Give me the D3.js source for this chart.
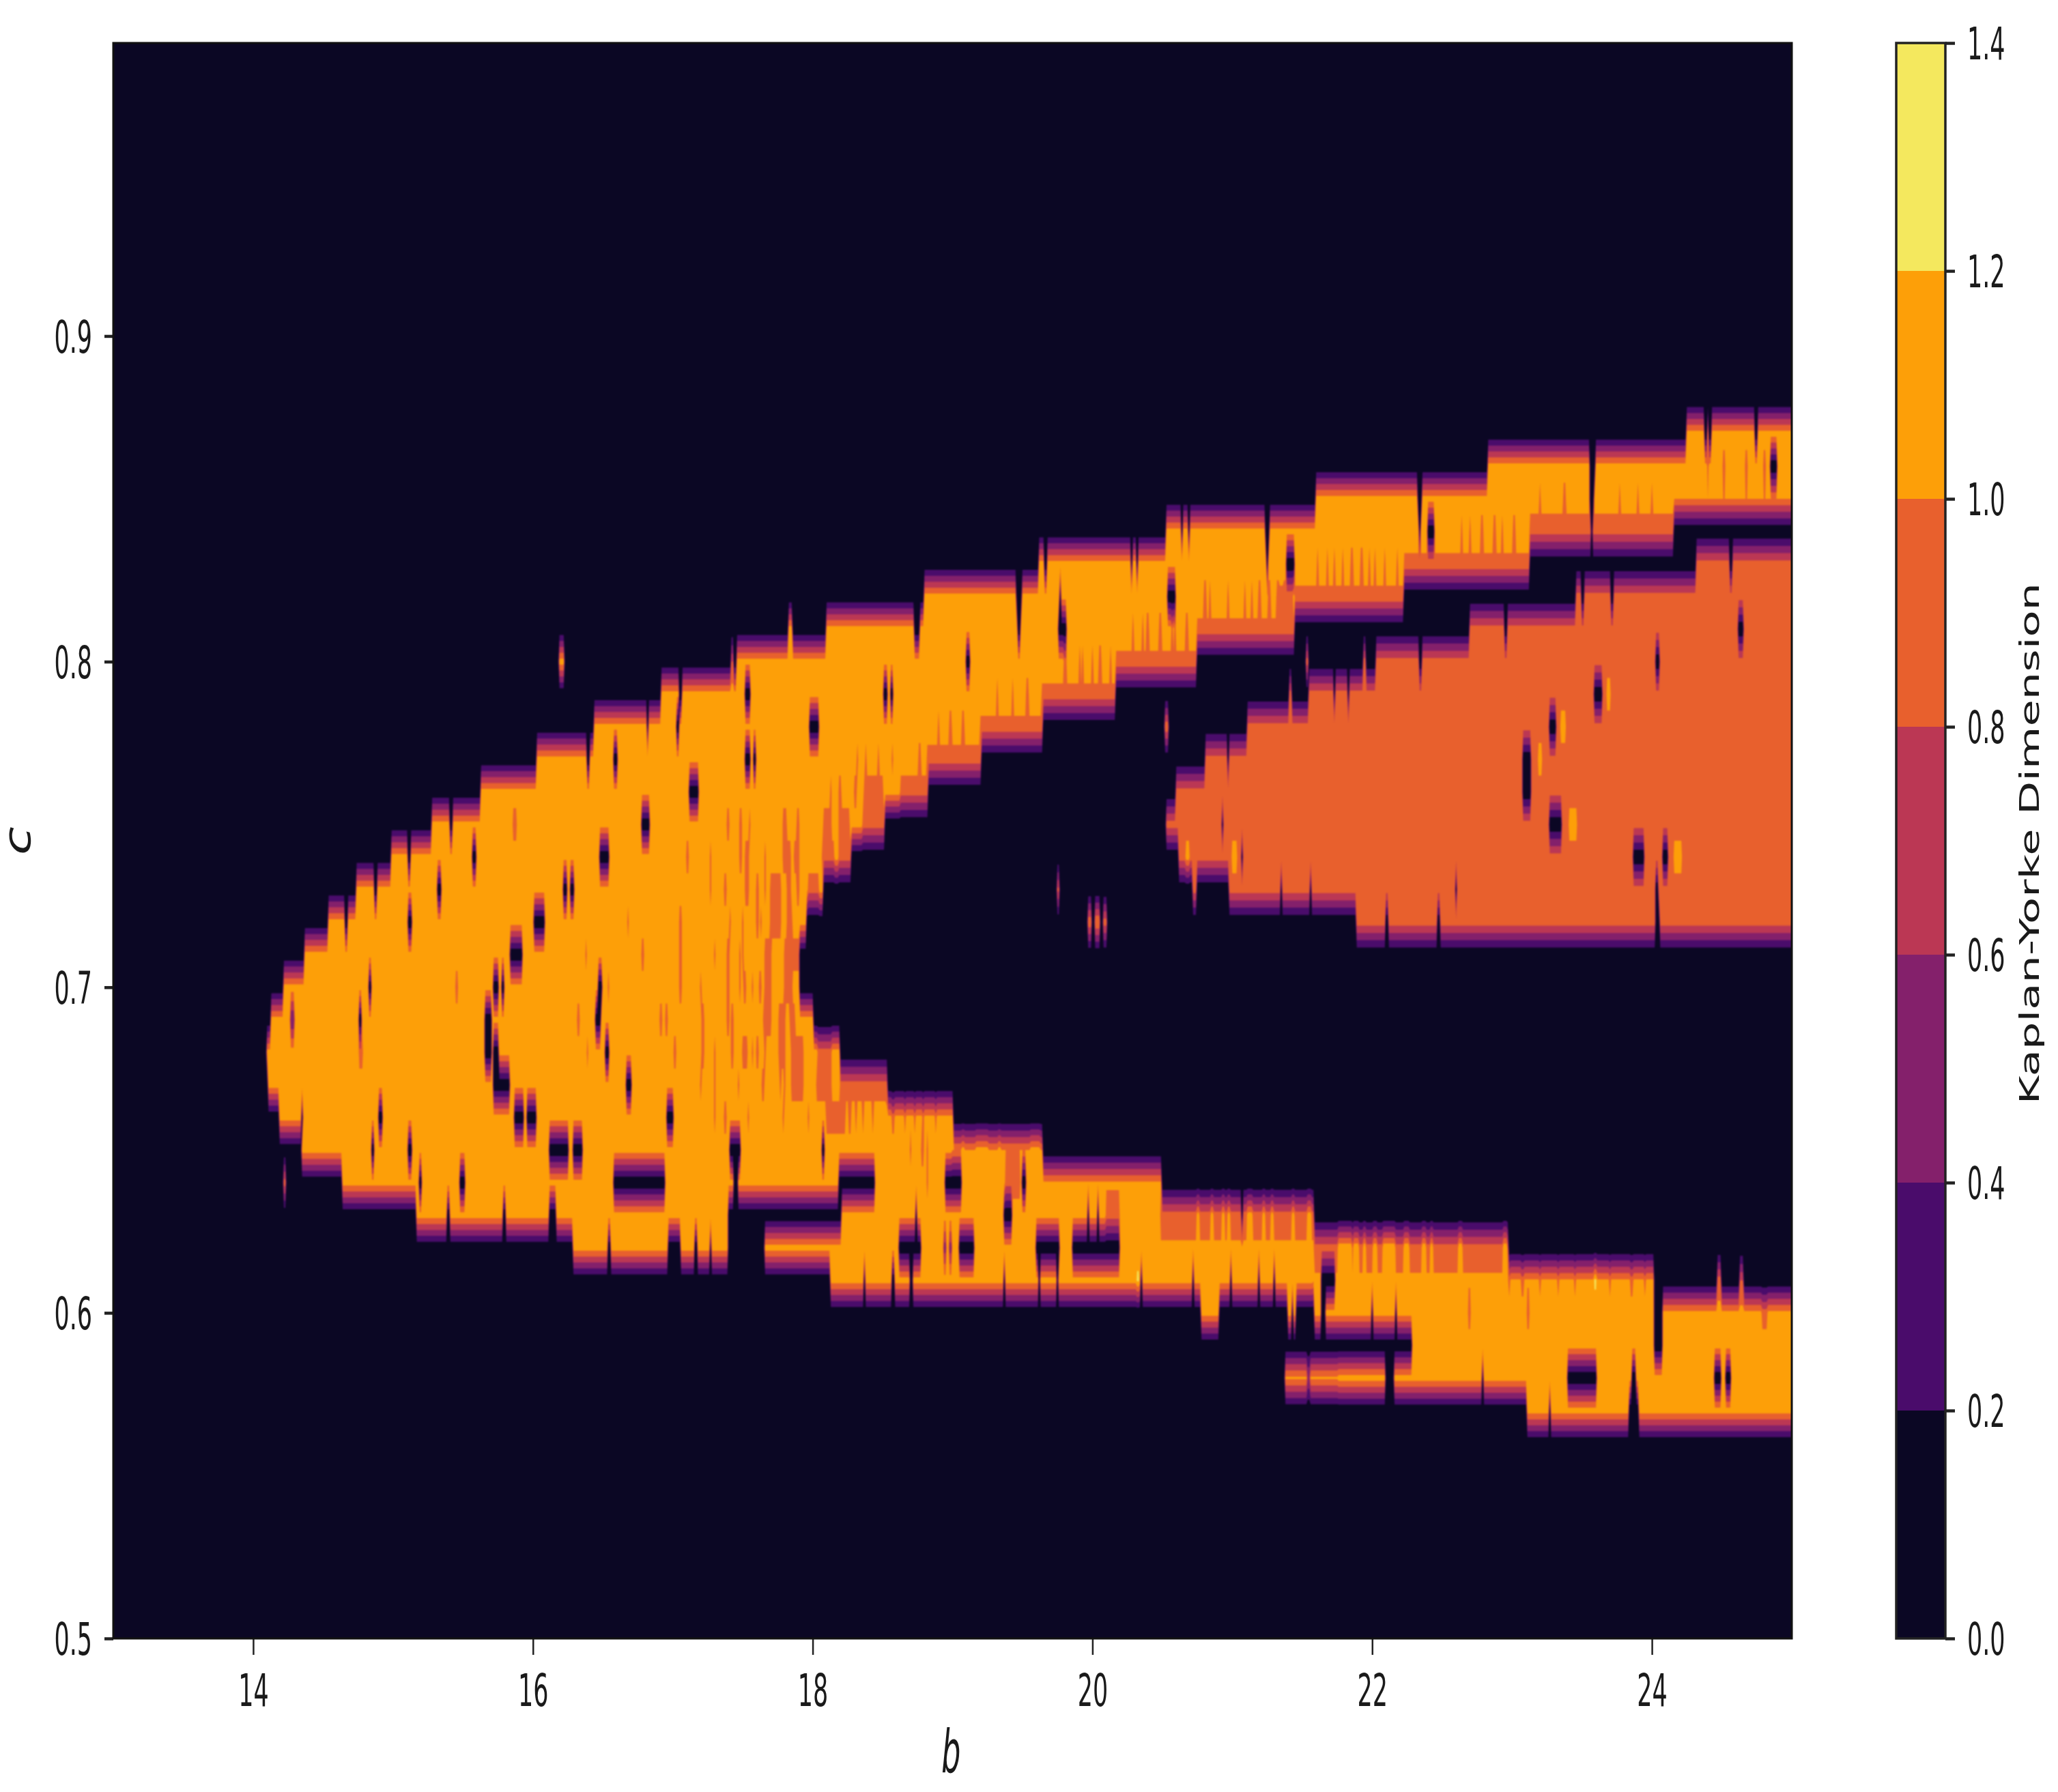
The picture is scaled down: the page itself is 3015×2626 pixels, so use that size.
<!DOCTYPE html>
<html>
<head>
<meta charset="utf-8">
<script src="https://cdn.jsdelivr.net/npm/d3@7"></script>
<style>
  body { margin: 0; background: #fff; }
  text { font-family: "DejaVu Sans", sans-serif; fill: #1a1a1a; }
</style>
</head>
<body>
<div id="root"></div>
<script>
// contour levels and tick labels
const levelBounds = [0, 0.2, 0.4, 0.6, 0.8, 1.0, 1.2, 1.4];
const levelColors = ['#0b0724', '#4a0c6b', '#84206b', '#bb3754', '#e8602d', '#fd9f08', '#f4e85e'];
const xTicks = [14, 16, 18, 20, 22, 24];
const yTicks = [0.5, 0.6, 0.7, 0.8, 0.9];
const barTicks = [0, 0.2, 0.4, 0.6, 0.8, 1.0, 1.2, 1.4];

// grid: b from 13 to 25, c from 0.5 to 0.99
const bStep = 0.01;
const cStep = 0.01;
const bCount = 1201;
const cCount = 50;

// [c, b from, b to] -> dimension about 1.1
const orangeSpans = [
  [0.87, 24.25, 25], [0.86, 22.83, 25], [0.85, 21.60, 25], [0.84, 20.53, 24.15],
  [0.83, 19.62, 23.12], [0.82, 18.80, 22.22], [0.81, 18.10, 21.44], [0.80, 17.46, 20.74],
  [0.79, 16.92, 20.16], [0.78, 16.44, 19.64], [0.77, 16.03, 19.20], [0.76, 15.63, 18.82],
  [0.75, 15.28, 18.51], [0.74, 14.99, 18.27], [0.73, 14.745, 18.07], [0.72, 14.54, 17.95],
  [0.71, 14.37, 17.90], [0.70, 14.225, 17.90], [0.69, 14.13, 18.00], [0.68, 14.10, 18.19],
  [0.67, 14.11, 18.53], [0.66, 14.19, 19.00], [0.65, 14.35, 19.64], [0.64, 14.645, 20.49],
  [0.63, 15.17, 17.39], [0.63, 18.21, 21.58], [0.62, 16.29, 17.39], [0.62, 17.66, 22.97],
  [0.61, 18.125, 24.01], [0.60, 20.78, 20.90], [0.60, 21.40, 21.42], [0.60, 21.44, 21.45],
  [0.60, 21.59, 21.63], [0.60, 21.67, 24.01],
  [0.60, 24.08, 25], [0.59, 22.29, 24.01], [0.59, 24.08, 25], [0.58, 21.38, 22.09],
  [0.58, 22.155, 25], [0.57, 23.11, 25]
];

// [c, b from, b to] -> dimension about 0.9
const redSpans = [
  [0.83, 24.32, 25], [0.82, 23.46, 25], [0.81, 22.70, 25], [0.80, 22.03, 25],
  [0.79, 21.55, 25], [0.78, 21.11, 25], [0.77, 20.81, 25], [0.76, 20.60, 25],
  [0.75, 20.53, 25], [0.74, 20.62, 25], [0.73, 20.98, 25], [0.72, 21.89, 25],
  // red patches of the lobe
  [0.75, 17.79, 17.81], [0.74, 17.79, 17.81], [0.74, 17.52, 17.54], [0.73, 17.52, 17.54],
  [0.74, 17.82, 17.84], [0.73, 17.82, 17.84], [0.72, 17.82, 17.85], [0.71, 17.80, 17.90],
  [0.70, 17.80, 17.85], [0.73, 17.70, 17.77], [0.72, 17.70, 17.77], [0.73, 17.97, 18.04],
  [0.74, 18.07, 18.15], [0.74, 18.19, 18.27], [0.75, 18.08, 18.13], [0.75, 18.19, 18.26],
  [0.75, 18.36, 18.51], [0.76, 18.37, 18.50], [0.76, 18.63, 18.82], [0.71, 17.66, 17.70],
  [0.70, 17.66, 17.70], [0.69, 17.65, 17.70], [0.69, 17.76, 17.80], [0.68, 17.76, 17.80],
  [0.69, 17.84, 17.87], [0.68, 17.85, 17.93], [0.67, 17.85, 17.93], [0.68, 18.04, 18.13],
  [0.67, 18.04, 18.13], [0.66, 18.10, 18.23], [0.68, 17.50, 17.53], [0.67, 18.20, 18.53],
  // and of the lower arm
  [0.65, 19.38, 19.48], [0.64, 19.38, 19.48], [0.64, 19.69, 19.71], [0.64, 19.81, 19.83],
  [0.64, 19.97, 20.00], [0.64, 20.04, 20.07], [0.64, 20.10, 20.19], [0.63, 20.10, 20.19],
  [0.64, 20.30, 20.33], [0.64, 20.42, 20.44], [0.63, 20.49, 21.58], [0.62, 21.58, 22.97],
  [0.62, 20.84, 20.86], [0.62, 21.48, 21.54]
];

// [c, b from, b to, value] -> everything else
const partialSpans = [
  [0.85, 24.16, 25, 1.0], [0.84, 23.13, 24.15, 0.88], [0.83, 22.23, 23.12, 0.95],
  [0.82, 21.45, 22.22, 0.95], [0.82, 21.32, 21.43, 0.95], [0.81, 20.75, 21.44, 0.95],
  [0.80, 20.17, 20.74, 0.95], [0.79, 19.64, 20.16, 0.95], [0.78, 19.20, 19.64, 0.95],
  [0.77, 18.82, 19.20, 0.92], [0.66, 18.53, 19.00, 1.06],
  [0.65, 19.00, 19.64, 1.0], [0.65, 19.07, 19.08, 1.1], [0.65, 19.17, 19.25, 1.1],
  [0.65, 19.33, 19.34, 1.1], [0.65, 19.56, 19.62, 1.1],
  [0.64, 19.64, 20.49, 1.03], [0.62, 20.49, 21.58, 1.03], [0.61, 21.58, 24.01, 1.03],
  [0.60, 24.08, 25, 1.06], [0.58, 21.38, 21.75, 1.04],
  // orange fingers rising out of the red
  [0.63, 20.75, 20.76, 1.1], [0.63, 20.85, 20.86, 1.1], [0.63, 20.93, 20.94, 1.1],
  [0.63, 20.97, 20.98, 1.1], [0.63, 21.11, 21.14, 1.1], [0.63, 21.22, 21.23, 1.1],
  [0.63, 21.28, 21.29, 1.1], [0.63, 21.43, 21.44, 1.1], [0.63, 21.54, 21.56, 1.1],
  [0.62, 21.76, 21.85, 1.15], [0.62, 21.87, 21.90, 1.15], [0.62, 21.94, 21.95, 1.15],
  [0.62, 22.01, 22.03, 1.15], [0.62, 22.08, 22.12, 1.15], [0.62, 22.13, 22.16, 1.15],
  [0.62, 22.23, 22.26, 1.15], [0.62, 22.36, 22.38, 1.15], [0.62, 22.42, 22.43, 1.15],
  [0.62, 22.62, 22.64, 1.15], [0.62, 22.94, 22.96, 1.15],
  // isolated specks
  [0.80, 16.19, 16.22, 1.1], [0.64, 14.22, 14.235, 0.9], [0.73, 19.75, 19.76, 0.85],
  [0.72, 19.97, 19.99, 0.95], [0.72, 20.02, 20.05, 1.0], [0.72, 20.08, 20.10, 0.9],
  [0.78, 20.515, 20.54, 0.95], [0.61, 24.47, 24.49, 0.9], [0.61, 24.63, 24.65, 0.8],
  // spikes poking out of the bands
  [0.73, 20.72, 20.74, 0.9], [0.81, 17.83, 17.85, 1.1], [0.80, 17.42, 17.43, 0.8],
  [0.80, 21.53, 21.54, 0.9], [0.80, 21.94, 21.95, 0.9], [0.79, 21.41, 21.42, 0.9],
  [0.60, 24.79, 24.82, 0.9], [0.60, 22.69, 22.70, 0.9], [0.60, 23.11, 23.12, 0.9],
  // orange slivers inside the red body
  [0.74, 20.67, 20.69, 1.1], [0.74, 21.00, 21.03, 1.1], [0.79, 23.68, 23.70, 1.1],
  [0.78, 23.35, 23.38, 1.1], [0.77, 23.19, 23.21, 1.1], [0.75, 23.41, 23.43, 1.1],
  [0.75, 23.44, 23.46, 1.1], [0.74, 24.16, 24.21, 1.1],
  // faint dips
  [0.62, 18.94, 18.95, 0.5], [0.62, 18.98, 18.99, 0.5], [0.58, 21.54, 21.55, 0.6],
  [0.69, 14.27, 14.29, 0.4],
  // the two brightest points
  [0.61, 20.32, 20.33, 1.24], [0.61, 23.59, 23.60, 1.24]
];

// [c, b centres] -> thin red streaks in the orange
const streaks = [
  [0.86, [24.40, 24.51, 24.67, 24.80]],
  [0.85, [23.20, 23.37, 23.77, 23.90, 24.00]],
  [0.84, [22.64, 22.70, 22.78, 22.87, 22.93, 23.01]],
  [0.83, [21.61, 21.68, 21.73, 21.79, 21.85, 21.92, 21.98, 22.02, 22.09, 22.18]],
  [0.82, [20.80, 20.84, 20.97, 21.09, 21.14, 21.19, 21.26, 21.33, 21.37]],
  [0.81, [20.29, 20.36, 20.40, 20.49, 20.57, 20.59, 20.67]],
  [0.80, [19.80, 19.91, 19.93, 20.00, 20.05, 20.13]],
  [0.79, [19.32, 19.43, 19.53]],
  [0.78, [18.90, 18.99, 19.08]],
  [0.77, [18.32, 18.38, 18.47, 18.57, 18.76]],
  [0.76, [18.13, 18.19, 18.30]],
  [0.75, [15.87, 17.40, 17.49, 17.55, 17.90]],
  [0.74, [17.10, 17.27, 17.49, 17.66, 17.87, 17.90]],
  [0.73, [17.27, 17.37, 17.60, 17.66, 17.90]],
  [0.72, [16.68, 17.06, 17.41, 17.50, 17.60, 17.63]],
  [0.71, [16.38, 16.78, 17.06, 17.30, 17.40, 17.48, 17.50]],
  [0.70, [15.455, 16.54, 17.06, 17.20, 17.40, 17.48, 17.51, 17.57, 17.62]],
  [0.69, [16.33, 16.915, 16.955, 17.21, 17.40, 17.42]],
  [0.68, [14.77, 16.39, 17.01, 17.21, 17.30, 17.42, 17.57, 17.60, 17.66]],
  [0.67, [17.20, 17.30, 17.47, 17.65, 17.77, 17.80, 18.03]],
  [0.66, [17.30, 17.37, 17.54, 17.79, 17.97, 18.26, 18.31, 18.36, 18.43, 18.58, 18.66, 18.73, 18.79, 18.88]],
  [0.65, [18.70, 18.78, 18.82]],
  [0.64, [18.82]],
  [0.61, [22.98, 23.08, 23.20, 23.33, 23.45, 23.70, 23.85, 23.95]]
];

// [c, b from, b to] -> dark holes and slits, value near zero
const holeSpans = [
  [0.75, 16.78, 16.84], [0.76, 17.12, 17.19], [0.74, 16.48, 16.55], [0.72, 16.01, 16.09],
  [0.71, 15.84, 15.93], [0.73, 16.22, 16.25], [0.73, 16.27, 16.30], [0.78, 17.98, 18.05],
  [0.79, 17.52, 17.56], [0.77, 17.52, 17.56], [0.77, 17.58, 17.60], [0.79, 18.51, 18.54],
  [0.79, 18.56, 18.58], [0.78, 17.03, 17.05], [0.77, 16.58, 16.61], [0.74, 15.57, 15.60],
  [0.73, 15.32, 15.35], [0.72, 15.11, 15.14], [0.70, 14.83, 14.85], [0.69, 14.76, 14.78],
  [0.69, 15.66, 15.71], [0.68, 15.66, 15.71], [0.70, 15.72, 15.76], [0.70, 15.78, 15.80],
  [0.68, 15.72, 15.76], [0.67, 15.72, 15.84], [0.66, 15.87, 15.94], [0.66, 15.96, 16.03],
  [0.70, 16.47, 16.50], [0.69, 16.45, 16.49], [0.68, 16.52, 16.55], [0.67, 16.67, 16.71],
  [0.66, 16.96, 17.01], [0.65, 17.41, 17.49], [0.64, 17.44, 17.47], [0.65, 18.07, 18.09],
  [0.65, 16.12, 16.26], [0.65, 16.29, 16.36], [0.66, 14.90, 14.93], [0.65, 15.11, 15.14],
  [0.64, 15.48, 15.52], [0.64, 15.19, 15.21], [0.65, 14.85, 14.87],
  [0.64, 16.58, 16.95], [0.64, 18.19, 18.45], [0.64, 18.95, 19.07], [0.64, 19.50, 19.53],
  [0.63, 19.37, 19.43], [0.62, 18.62, 18.78], [0.62, 19.05, 19.16], [0.62, 19.60, 19.77],
  [0.62, 19.86, 20.20], [0.63, 19.965, 19.98], [0.63, 20.035, 20.05], [0.63, 18.74, 18.75],
  // slits
  [0.72, 14.66, 14.68], [0.73, 14.87, 14.89], [0.74, 15.11, 15.13], [0.75, 15.41, 15.43],
  [0.78, 16.82, 16.83], [0.79, 17.05, 17.07], [0.77, 16.39, 16.41], [0.63, 15.39, 15.41],
  [0.63, 15.79, 15.81], [0.63, 16.12, 16.17], [0.62, 16.54, 16.56], [0.62, 16.97, 17.06],
  [0.62, 17.165, 17.18], [0.62, 17.27, 17.28], [0.66, 14.35, 14.36],
  [0.81, 18.73, 18.77], [0.82, 19.46, 19.50], [0.81, 19.47, 19.49], [0.83, 19.66, 19.68],
  [0.82, 19.77, 19.78], [0.83, 20.28, 20.29], [0.83, 20.32, 20.33], [0.84, 20.64, 20.65],
  [0.84, 20.69, 20.70], [0.84, 21.24, 21.27], [0.83, 21.25, 21.26],
  [0.85, 22.33, 22.36], [0.84, 22.34, 22.35], [0.86, 23.56, 23.60], [0.85, 23.56, 23.59],
  [0.84, 23.57, 23.58], [0.87, 24.74, 24.76], [0.87, 24.38, 24.40], [0.87, 24.41, 24.43],
  [0.63, 21.07, 21.08],
  [0.81, 19.76, 19.82], [0.82, 20.54, 20.60], [0.83, 21.39, 21.45], [0.84, 22.40, 22.45],
  [0.86, 24.85, 24.90], [0.80, 19.10, 19.13],
  // holes and slits of the red body
  [0.81, 24.62, 24.66], [0.80, 24.03, 24.06], [0.79, 23.59, 23.65], [0.78, 23.27, 23.32],
  [0.77, 23.08, 23.14], [0.76, 23.08, 23.14], [0.75, 23.27, 23.36], [0.74, 23.87, 23.95],
  [0.74, 24.08, 24.12], [0.75, 20.925, 20.94], [0.74, 21.07, 21.08], [0.73, 22.60, 22.61],
  [0.83, 24.56, 24.58], [0.82, 23.50, 23.52], [0.82, 23.71, 23.73], [0.81, 22.95, 22.97],
  [0.80, 22.34, 22.36], [0.79, 21.73, 21.74], [0.79, 21.83, 21.84],
  [0.72, 22.10, 22.12], [0.72, 22.47, 22.49], [0.72, 24.03, 24.06], [0.73, 24.03, 24.05],
  [0.73, 21.35, 21.36], [0.73, 21.56, 21.57], [0.77, 20.97, 20.98],
  // lower arm
  [0.61, 18.37, 18.38], [0.61, 18.575, 18.59], [0.61, 18.70, 18.72], [0.61, 19.37, 19.38],
  [0.61, 19.62, 19.63], [0.61, 19.75, 19.76], [0.61, 20.35, 20.36], [0.61, 20.72, 20.73],
  [0.61, 20.99, 21.00], [0.61, 21.19, 21.20], [0.61, 21.30, 21.31], [0.61, 21.64, 21.74],
  [0.60, 21.65, 21.66], [0.60, 22.00, 22.01], [0.60, 22.17, 22.18],
  [0.58, 22.79, 22.80], [0.57, 23.27, 23.28], [0.57, 23.84, 23.91], [0.58, 23.86, 23.89],
  [0.58, 23.40, 23.61], [0.58, 24.45, 24.50], [0.58, 24.53, 24.57]
];

const buildGraph = () => {
    // Dimensions
    const width = 3015;
    const height = 2626;
    const plot = { left: 166, right: 2625, top: 63, bottom: 2401 };
    const bar = { left: 2778, right: 2850 };
    // the picture was squeezed sideways, so the glyphs are too
    const squeeze = 0.53;

    const svg = d3.select('#root')
                    .append('svg')
                    .attr('width', width)
                    .attr('height', height)
                    .style('display', 'block');

    const xScale = d3.scaleLinear().domain([13, 25]).range([plot.left, plot.right]);
    const yScale = d3.scaleLinear().domain([0.5, 0.99]).range([plot.bottom, plot.top]);
    const barScale = d3.scaleLinear().domain([0, 1.4]).range([plot.bottom, plot.top]);

    // Grid
    const grid = new Float64Array(bCount * cCount);
    const fill = (c, b0, b1, v, thin) => {
        const row = Math.round((c - 0.5) / cStep);
        const i0 = Math.round((b0 - 13) / bStep);
        // holes stop one column early so the slits stay narrow
        const i1 = Math.min(bCount - 1, Math.max(i0, Math.round((b1 - 13) / bStep) - (thin ? 1 : 0)));
        for (let i = i0; i <= i1; i++) grid[row * bCount + i] = v;
    };
    orangeSpans.forEach(d => fill(d[0], d[1], d[2], 1.1));
    redSpans.forEach(d => fill(d[0], d[1], d[2], 0.9));
    partialSpans.forEach(d => fill(d[0], d[1], d[2], d[3]));
    streaks.forEach(d => d[1].forEach(b => fill(d[0], b - 0.005, b + 0.005, 0.9)));
    holeSpans.forEach(d => fill(d[0], d[1], d[2], 0, true));

    // Filled contours
    const thresholds = levelBounds.slice(0, -1);
    const contours = d3.contours().size([bCount, cCount]).thresholds(thresholds)(grid);
    const toChart = d3.geoTransform({
        point(x, y) {
            this.stream.point(xScale(13 + (x - 0.5) * bStep), yScale(0.5 + (y - 0.5) * cStep));
        }
    });
    const path = d3.geoPath(toChart);

    svg.append('clipPath')
        .attr('id', 'plot-clip')
        .append('rect')
        .attr('x', plot.left)
        .attr('y', plot.top)
        .attr('width', plot.right - plot.left)
        .attr('height', plot.bottom - plot.top);

    svg.append('g')
        .attr('clip-path', 'url(#plot-clip)')
        .append('g')
        .style('filter', 'blur(1.2px)')
        .selectAll('path')
        .data(contours)
        .enter()
        .append('path')
        .attr('d', path)
        .attr('fill', (d, i) => levelColors[i]);

    // Axes
    const xAxis = d3.axisBottom(xScale).tickValues(xTicks).tickFormat(d3.format('d')).tickSize(24).tickPadding(0);
    const yAxis = d3.axisLeft(yScale).tickValues(yTicks).tickFormat(d3.format('.1f')).tickSize(13);

    const gx = svg.append('g')
        .attr('transform', `translate(0,${plot.bottom})`)
        .call(xAxis);
    gx.selectAll('line').attr('stroke', '#222').attr('stroke-width', 2.5);
    gx.selectAll('text')
        .attr('y', 52)
        .attr('dy', '0.71em')
        .attr('transform', `scale(${squeeze},1)`);

    const gy = svg.append('g')
        .attr('transform', `translate(${plot.left},0)`)
        .call(yAxis);
    gy.selectAll('line').attr('stroke', '#222').attr('stroke-width', 4.5);
    gy.selectAll('text')
        .attr('x', -31 / squeeze)
        .attr('dy', '0.36em')
        .attr('transform', `scale(${squeeze},1)`);

    [gx, gy].forEach(g => {
        g.select('.domain').remove();
        g.selectAll('text').style('font-size', '66px').style('fill', '#1a1a1a');
    });

    svg.append('rect')
        .attr('x', plot.left)
        .attr('y', plot.top)
        .attr('width', plot.right - plot.left)
        .attr('height', plot.bottom - plot.top)
        .attr('fill', 'none')
        .attr('stroke', '#111')
        .attr('stroke-width', 3);

    svg.append('text')
        .attr('transform', `translate(${xScale(18.99)},2597) scale(0.51,1)`)
        .attr('text-anchor', 'middle')
        .style('font-size', '87px')
        .style('font-style', 'italic')
        .text('b');

    svg.append('text')
        .attr('transform', 'translate(44,1232) rotate(-90) scale(1,0.72)')
        .attr('text-anchor', 'middle')
        .style('font-size', '76px')
        .style('font-style', 'italic')
        .text('c');

    // Colorbar
    const levels = levelColors.map((color, i) => ({ color, from: levelBounds[i], to: levelBounds[i + 1] }));
    svg.selectAll('.level')
        .data(levels)
        .enter()
        .append('rect')
        .attr('class', 'level')
        .attr('x', bar.left)
        .attr('y', d => barScale(d.to))
        .attr('width', bar.right - bar.left)
        .attr('height', d => barScale(d.from) - barScale(d.to))
        .attr('fill', d => d.color);

    svg.append('rect')
        .attr('x', bar.left)
        .attr('y', plot.top)
        .attr('width', bar.right - bar.left)
        .attr('height', plot.bottom - plot.top)
        .attr('fill', 'none')
        .attr('stroke', '#222')
        .attr('stroke-width', 3.5);

    const barAxis = d3.axisRight(barScale).tickValues(barTicks).tickFormat(d3.format('.1f')).tickSize(14);
    const gb = svg.append('g')
        .attr('transform', `translate(${bar.right},0)`)
        .call(barAxis);
    gb.select('.domain').remove();
    gb.selectAll('line').attr('stroke', '#222').attr('stroke-width', 4.5);
    gb.selectAll('text')
        .attr('x', 32 / squeeze)
        .attr('dy', '0.36em')
        .attr('transform', `scale(${squeeze},1)`)
        .style('font-size', '66px')
        .style('fill', '#1a1a1a');

    svg.append('text')
        .attr('transform', 'translate(2987,1236) rotate(-90) scale(1,0.62)')
        .attr('text-anchor', 'middle')
        .style('font-size', '64px')
        .text('Kaplan-Yorke Dimension');
};

buildGraph();
</script>
</body>
</html>
